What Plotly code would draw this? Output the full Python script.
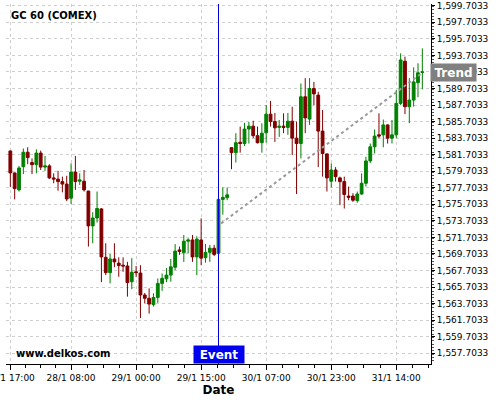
import plotly.graph_objects as go

# ---------------- data ----------------
opens = [1582.15, 1579.5, 1577.45, 1580.25, 1582.0, 1580.75, 1580.5, 1581.9, 1580.2, 1580.35,
         1578.9, 1578.75, 1578.45, 1578.15, 1576.45, 1579.6, 1578.5, 1578.5, 1577.3, 1573.1,
         1574.05, 1575.15, 1569.3, 1567.45, 1569.1, 1568.6, 1568.35, 1568.25, 1566.35, 1567.55,
         1567.4, 1564.75, 1564.35, 1563.6, 1564.45, 1566.15, 1566.7, 1567.15, 1568.1, 1570.2,
         1569.85, 1571.25, 1571.4, 1569.35, 1571.4, 1569.25, 1569.9, 1570.4, 1569.8, 1576.3,
         1576.5, 1582.55, 1581.95, 1583.2, 1583.05, 1584.8, 1585.15, 1584.0, 1583.15, 1584.35,
         1586.6, 1585.7, 1585.0, 1585.15, 1585.0, 1585.75, 1583.7, 1583.05, 1588.7, 1586.0,
         1589.7, 1588.9, 1584.55, 1581.8, 1578.5, 1579.85, 1578.9, 1578.45, 1576.7, 1576.7,
         1576.15, 1576.95, 1578.25, 1580.95, 1582.65, 1584.1, 1584.1, 1585.3, 1583.7, 1584.1,
         1587.9, 1593.0, 1587.5, 1588.3, 1590.4, 1591.65]
highs = [1582.2, 1579.55, 1580.35, 1582.45, 1582.6, 1581.25, 1582.35, 1582.2, 1581.55, 1580.55,
         1579.45, 1579.75, 1579.05, 1579.15, 1580.65, 1581.55, 1579.45, 1579.85, 1577.35, 1574.75,
         1577.25, 1575.25, 1571.0, 1569.7, 1571.0, 1569.3, 1569.3, 1568.75, 1569.2, 1568.25,
         1568.35, 1565.0, 1565.55, 1564.95, 1566.75, 1567.35, 1568.0, 1569.1, 1570.9, 1570.6,
         1572.0, 1571.6, 1572.0, 1571.85, 1574.0, 1570.9, 1570.8, 1570.8, 1576.45, 1577.75,
         1577.75, 1582.6, 1584.3, 1585.1, 1585.55, 1585.65, 1585.8, 1585.1, 1585.5, 1587.7,
         1588.2, 1586.75, 1585.9, 1586.7, 1586.75, 1587.5, 1585.7, 1590.3, 1590.95, 1590.95,
         1590.5, 1589.3, 1587.1, 1581.85, 1580.65, 1580.2, 1579.05, 1579.05, 1577.85, 1577.05,
         1577.25, 1579.45, 1581.45, 1583.05, 1584.75, 1586.7, 1585.95, 1585.35, 1585.9, 1589.5,
         1593.95, 1593.55, 1590.95, 1592.25, 1592.75, 1594.55]
lows = [1577.8, 1576.3, 1577.25, 1579.35, 1580.55, 1579.35, 1579.45, 1579.85, 1579.75, 1578.75,
        1578.25, 1577.35, 1577.15, 1576.1, 1575.75, 1577.45, 1578.05, 1577.25, 1570.6, 1571.0,
        1573.5, 1566.3, 1567.15, 1566.15, 1568.1, 1566.95, 1567.55, 1564.55, 1565.45, 1566.95,
        1561.95, 1563.75, 1562.5, 1563.35, 1563.8, 1565.25, 1566.3, 1566.35, 1567.75, 1569.6,
        1568.75, 1569.8, 1568.75, 1567.15, 1568.35, 1568.65, 1568.75, 1569.45, 1569.7, 1574.45,
        1576.2, 1579.95, 1580.75, 1581.95, 1582.75, 1583.05, 1583.7, 1583.05, 1581.95, 1583.15,
        1585.1, 1583.25, 1583.85, 1584.3, 1584.1, 1581.65, 1576.95, 1581.25, 1584.3, 1585.3,
        1587.7, 1580.2, 1579.05, 1577.25, 1577.75, 1578.45, 1575.6, 1575.2, 1576.2, 1576.0,
        1575.9, 1576.85, 1577.85, 1580.7, 1581.85, 1583.7, 1582.6, 1583.05, 1583.05, 1583.7,
        1587.7, 1586.6, 1585.5, 1587.5, 1588.65, 1589.6]
closes = [1579.5, 1577.6, 1580.1, 1582.0, 1581.35, 1580.5, 1581.9, 1580.2, 1580.35, 1578.9,
          1578.75, 1578.45, 1578.15, 1576.35, 1579.6, 1578.45, 1578.65, 1577.45, 1573.1, 1574.05,
          1575.2, 1569.35, 1567.45, 1569.1, 1568.75, 1568.3, 1568.25, 1566.25, 1567.5, 1567.45,
          1564.75, 1564.35, 1563.65, 1564.45, 1566.15, 1566.75, 1567.15, 1568.15, 1570.05, 1570.0,
          1571.25, 1571.4, 1569.35, 1571.5, 1569.2, 1569.9, 1570.4, 1569.65, 1576.3, 1576.55,
          1576.85, 1581.95, 1583.15, 1583.05, 1584.8, 1585.15, 1584.0, 1583.15, 1584.3, 1586.6,
          1585.7, 1584.95, 1585.15, 1585.0, 1585.75, 1583.7, 1583.05, 1588.7, 1586.15, 1589.7,
          1589.05, 1584.55, 1581.85, 1578.9, 1579.85, 1579.05, 1578.45, 1576.9, 1576.55, 1576.2,
          1576.95, 1578.25, 1580.95, 1582.65, 1583.95, 1583.95, 1585.3, 1583.7, 1584.1, 1587.9,
          1593.15, 1587.5, 1588.3, 1590.5, 1591.6, 1591.7]
bar_index = list(range(len(opens)))

tick_index = [0, 14, 29, 44, 59, 74, 89]
tick_labels = ["27/1 17:00", "28/1 08:00", "29/1 00:00", "29/1 15:00",
               "30/1 07:00", "30/1 23:00", "31/1 14:00"]

event_index = 48
trend_x = [48.6, 95.0]
trend_y = [1573.4, 1591.6]

y_tick0 = 1557.7033
y_range = [1556.41, 1599.91]
x_range = [-1, 97]

# ---------------- figure ----------------
GREEN = "#008000"
RED = "#800000"
GRID = "#cfcfcf"
FONT = "DejaVu Sans"

fig = go.Figure()
fig.add_trace(go.Candlestick(
    x=bar_index, open=opens, high=highs, low=lows, close=closes,
    increasing=dict(line=dict(color=GREEN, width=1), fillcolor=GREEN),
    decreasing=dict(line=dict(color=RED, width=1), fillcolor=RED),
    whiskerwidth=0, hoverinfo="skip", showlegend=False,
))
fig.add_trace(go.Scatter(
    x=trend_x, y=trend_y, mode="lines",
    line=dict(color="#999999", width=2, dash="dot"),
    hoverinfo="skip", showlegend=False,
))

# minor x ticks at quarters between the labelled ticks
minor_x = []
for a, b in zip([-15] + tick_index, tick_index + [104]):
    step = (b - a) / 4.0
    for k in range(1, 4):
        minor_x.append(a + k * step)

fig.update_layout(
    width=500, height=400,
    margin=dict(l=6, r=69, t=4, b=36, autoexpand=False),
    paper_bgcolor="white", plot_bgcolor="white",
    font=dict(family=FONT, size=9, color="black"),
    boxgap=0.08,
    showlegend=False,
    xaxis=dict(
        range=x_range, rangeslider=dict(visible=False), automargin=False,
        tickmode="array", tickvals=tick_index, ticktext=tick_labels,
        ticklabeloverflow="allow",
        ticks="outside", ticklen=5, tickcolor="black", tickwidth=1,
        showline=True, linecolor="black", linewidth=1,
        showgrid=True, gridcolor=GRID, griddash="dot", gridwidth=1,
        zeroline=False,
        tickfont=dict(family=FONT, size=9, color="black"),
        title=dict(text="<b>Date</b>", font=dict(family=FONT, size=12, color="black"), standoff=2),
        minor=dict(tickmode="array", tickvals=minor_x, ticks="outside", ticklen=3,
                   tickcolor="black", showgrid=False),
    ),
    yaxis=dict(
        range=y_range, side="right", automargin=False,
        tick0=y_tick0, dtick=2, tickformat=",.4f",
        ticklabeloverflow="allow",
        ticks="outside", ticklen=3, tickcolor="black", tickwidth=1,
        showline=True, linecolor="black", linewidth=1,
        showgrid=True, gridcolor=GRID, griddash="dot", gridwidth=1,
        zeroline=False,
        tickfont=dict(family=FONT, size=9, color="black"),
        minor=dict(dtick=0.4, ticks="outside", ticklen=2, tickcolor="#555555", showgrid=False),
    ),
)

fig.add_shape(type="line", xref="x", yref="paper", x0=event_index, x1=event_index,
              y0=0, y1=1, line=dict(color="#0000dd", width=1), layer="above")

fig.add_annotation(xref="paper", yref="paper", x=0, y=1, xanchor="left", yanchor="middle",
                   xshift=3, yshift=-11, showarrow=False,
                   text="<b>GC 60 (COMEX)</b>", font=dict(family=FONT, size=10, color="black"))
fig.add_annotation(xref="paper", yref="paper", x=0, y=0, xanchor="left", yanchor="middle",
                   xshift=8, yshift=10.7, showarrow=False,
                   text="<b>www.delkos.com</b>", font=dict(family=FONT, size=10, color="black"))
fig.add_annotation(xref="x", yref="paper", x=event_index, y=0, xanchor="center", yanchor="bottom",
                   showarrow=False, text="<b>Event</b>", bgcolor="#0000ee",
                   width=48, height=15, borderpad=1,
                   font=dict(family=FONT, size=12, color="white"))
fig.add_annotation(xref="paper", yref="y", x=1, y=trend_y[-1], xanchor="left", yanchor="middle",
                   xshift=-1, showarrow=False, text="<b>Trend</b>", bgcolor="#808080",
                   width=43, height=15, borderpad=1,
                   font=dict(family=FONT, size=12, color="white"))

fig.write_html("out.html",
               config={"displayModeBar": False},
               post_script="document.body.style.margin='0';document.body.style.padding='0';")
